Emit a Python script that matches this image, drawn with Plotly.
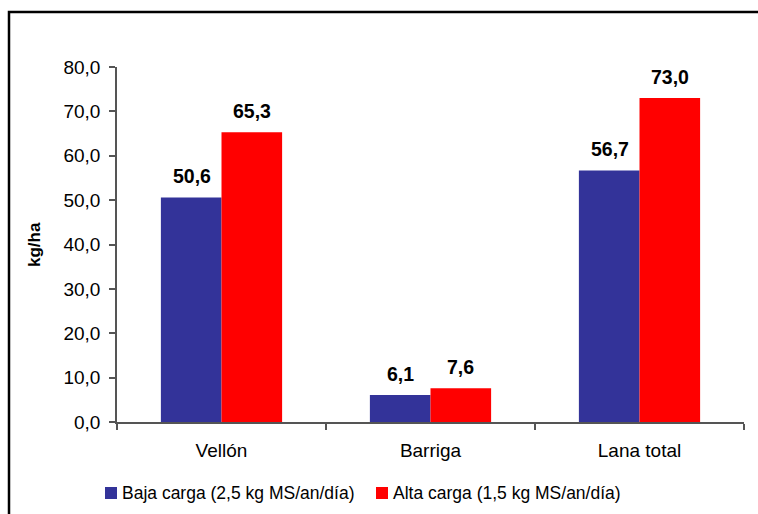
import plotly.graph_objects as go

categories = ["Vellón", "Barriga", "Lana total"]
baja_carga = [50.6, 6.1, 56.7]
alta_carga = [65.3, 7.6, 73.0]
series_names = ["Baja carga (2,5 kg MS/an/día)", "Alta carga (1,5 kg MS/an/día)"]
y_ticks = [0, 10, 20, 30, 40, 50, 60, 70, 80]

BLUE = "#333399"
RED = "#FF0000"
AXIS = "#555555"
FONT = "Liberation Sans, Arial, sans-serif"

W, H = 758, 514
L, R, T, B = 117, 14, 67, 92
pw, ph = W - L - R, H - T - B


def px_x(p):
    return (p - L) / pw


def px_y(p):
    return (H - B - p) / ph


fig = go.Figure()
for name, vals, col in [(series_names[0], baja_carga, BLUE), (series_names[1], alta_carga, RED)]:
    fig.add_trace(go.Bar(x=categories, y=vals, name=name, marker_color=col,
                         marker_line_width=0, showlegend=False))

# value labels above each bar
for vals, shift in [(baja_carga, -30), (alta_carga, 30)]:
    for c, v in zip(categories, vals):
        fig.add_annotation(x=c, y=v, text=f"<b>{v:.1f}</b>".replace(".", ","),
                           showarrow=False, xshift=shift, yshift=8, yanchor="bottom",
                           font=dict(size=19.5, color="black", family=FONT))

# y-axis title
fig.add_annotation(x=px_x(34), y=px_y(245), xref="paper", yref="paper", text="<b>kg/ha</b>",
                   textangle=-90, showarrow=False, xanchor="center", yanchor="middle",
                   font=dict(size=17, color="black", family=FONT))

# legend drawn below the plot
legend_items = [(105, BLUE, series_names[0]), (376, RED, series_names[1])]
for x0, col, name in legend_items:
    fig.add_shape(type="rect", xref="paper", yref="paper",
                  x0=px_x(x0), x1=px_x(x0 + 12), y0=px_y(499), y1=px_y(487),
                  fillcolor=col, line_width=0)
    fig.add_annotation(x=px_x(x0 + 15), y=px_y(493), xref="paper", yref="paper",
                       text=name, showarrow=False, xanchor="left", yanchor="middle",
                       font=dict(size=17.5, color="black", family=FONT))

# outer frame
fig.add_shape(type="rect", xref="paper", yref="paper",
              x0=px_x(9), x1=px_x(780), y0=px_y(540), y1=px_y(12),
              line=dict(color="black", width=2.5), fillcolor="rgba(0,0,0,0)")

fig.update_layout(
    width=W, height=H,
    margin=dict(l=L, r=R, t=T, b=B),
    paper_bgcolor="white", plot_bgcolor="white",
    barmode="group", bargap=0.42, bargroupgap=0,
    separators=",.",
    font=dict(family=FONT, color="black", size=17),
    xaxis=dict(showline=True, linecolor=AXIS, linewidth=1.5, ticks="outside",
               tickson="boundaries", ticklen=6, tickcolor=AXIS, tickwidth=1.5,
               showgrid=False, tickfont=dict(size=19), ticklabelstandoff=10),
    yaxis=dict(range=[0, 80], tickvals=y_ticks, tickformat=".1f", showline=True,
               linecolor=AXIS, linewidth=1.5, ticks="outside", ticklen=6,
               tickcolor=AXIS, tickwidth=1.5, showgrid=False, zeroline=False,
               tickfont=dict(size=19), ticklabelstandoff=5),
)

fig.write_html("out.html")
